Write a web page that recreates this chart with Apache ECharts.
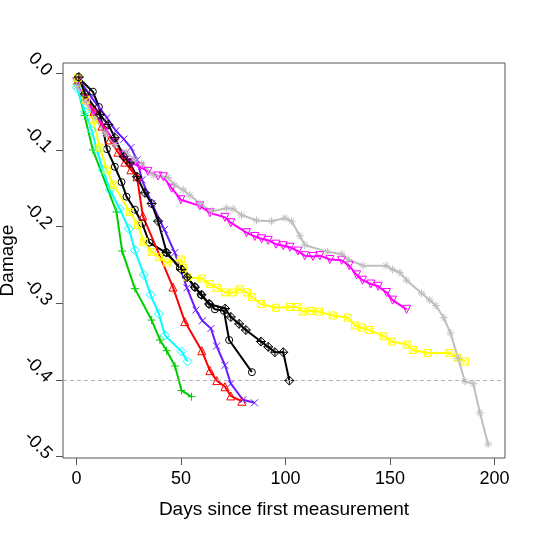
<!DOCTYPE html>
<html>
<head>
<meta charset="utf-8">
<script src="https://cdn.jsdelivr.net/npm/echarts@6/dist/echarts.min.js"></script>
<style>
  html, body { margin: 0; padding: 0; background: #fff; }
  #container { width: 537px; height: 537px; }
</style>
</head>
<body>
<div id="container"></div>
<script>
// tick labels
const xTicks = [0, 50, 100, 150, 200]
const yTicks = [0, -0.1, -0.2, -0.3, -0.4, -0.5]
const threshold = -0.4

// series 1: black, open circle
const days1 = [0.6, 7.8, 10.7, 14.5, 18.3, 21.5, 23.9, 27.9, 31.4, 34.8, 42.7, 49.4, 52.9, 56.6, 59.5, 63.5, 66.2, 70.5, 73.0, 83.9]
const damage1 = [-0.005, -0.024, -0.044, -0.099, -0.122, -0.142, -0.161, -0.178, -0.196, -0.221, -0.234, -0.254, -0.266, -0.279, -0.289, -0.301, -0.308, -0.310, -0.348, -0.390]

// series 2: red, triangle
const days2 = [0.6, 4.4, 8.3, 12.1, 15.9, 19.8, 23.1, 26.0, 28.9, 31.7, 46.1, 51.8, 59.9, 63.8, 67.1, 71.0, 73.8, 79.1]
const damage2 = [-0.009, -0.031, -0.050, -0.069, -0.087, -0.103, -0.116, -0.126, -0.135, -0.186, -0.279, -0.324, -0.362, -0.388, -0.401, -0.409, -0.421, -0.428]

// series 3: green, plus
const days3 = [0.1, 3.8, 7.8, 19.1, 21.8, 27.9, 35.9, 39.9, 43.1, 47.1, 50.2, 55.0]
const damage3 = [-0.014, -0.055, -0.100, -0.181, -0.232, -0.281, -0.322, -0.348, -0.362, -0.382, -0.414, -0.422]

// series 4: blue, cross
const days4 = [0.6, 7.3, 14.5, 18.8, 22.6, 26.0, 28.9, 31.3, 36.0, 42.0, 47.0, 52.8, 57.1, 60.2, 64.3, 67.0, 71.0, 73.8, 79.6, 85.1]
const damage4 = [-0.006, -0.032, -0.058, -0.075, -0.086, -0.097, -0.113, -0.139, -0.170, -0.204, -0.234, -0.280, -0.309, -0.323, -0.333, -0.356, -0.381, -0.405, -0.426, -0.430]

// series 5: cyan, diamond
const days5 = [0.1, 4.0, 7.2, 9.7, 12.6, 15.9, 20.7, 25.0, 27.9, 32.2, 35.4, 39.4, 42.3, 50.2, 53.1]
const damage5 = [-0.019, -0.050, -0.074, -0.100, -0.126, -0.152, -0.177, -0.203, -0.231, -0.263, -0.289, -0.314, -0.342, -0.363, -0.376]

// series 6: magenta, inverted triangle
const days6 = [0.1, 4.4, 8.8, 13.5, 18.3, 22.6, 26.5, 30.3, 34.1, 39.0, 41.5, 45.5, 49.9, 59.0, 63.8, 71.0, 73.8, 81.3, 85.3, 88.5, 91.7, 95.4, 98.9, 102.1, 105.9, 109.2, 113.1, 116.4, 121.2, 126.8, 130.4, 134.0, 136.8, 140.8, 144.3, 148.3, 151.2, 157.9]
const damage6 = [-0.011, -0.035, -0.053, -0.071, -0.090, -0.107, -0.117, -0.122, -0.128, -0.134, -0.135, -0.150, -0.165, -0.173, -0.182, -0.188, -0.195, -0.208, -0.213, -0.216, -0.218, -0.223, -0.225, -0.227, -0.232, -0.238, -0.239, -0.238, -0.243, -0.244, -0.251, -0.263, -0.270, -0.275, -0.278, -0.286, -0.296, -0.308]

// series 7: yellow, boxed cross
const days7 = [0.6, 4.4, 7.8, 11.1, 14.5, 17.8, 25.5, 29.3, 32.2, 36.0, 39.4, 43.2, 49.9, 50.9, 52.8, 60.0, 63.8, 67.1, 71.0, 74.8, 78.1, 81.5, 83.9, 88.2, 95.4, 102.1, 105.4, 108.3, 112.1, 116.0, 122.6, 129.8, 133.2, 136.5, 139.9, 147.0, 150.9, 158.0, 160.9, 168.1, 178.6, 182.0, 185.8]
const damage7 = [-0.006, -0.035, -0.061, -0.097, -0.126, -0.146, -0.181, -0.198, -0.220, -0.233, -0.240, -0.247, -0.243, -0.254, -0.266, -0.268, -0.275, -0.280, -0.286, -0.286, -0.282, -0.286, -0.292, -0.301, -0.306, -0.305, -0.305, -0.311, -0.310, -0.311, -0.316, -0.319, -0.329, -0.332, -0.335, -0.343, -0.350, -0.354, -0.361, -0.365, -0.365, -0.371, -0.376]

// series 8: gray, asterisk
const days8 = [0.1, 4.0, 8.8, 13.5, 18.3, 23.6, 27.9, 31.2, 36.7, 43.8, 47.0, 51.0, 54.2, 59.0, 64.6, 71.8, 74.9, 78.9, 86.1, 93.3, 99.7, 102.9, 106.8, 109.2, 120.0, 127.0, 130.0, 137.1, 148.0, 151.2, 154.7, 157.9, 165.1, 169.0, 171.9, 175.7, 178.9, 182.6, 185.8, 189.8, 193.0, 196.9]
const damage8 = [-0.017, -0.037, -0.058, -0.078, -0.093, -0.103, -0.113, -0.118, -0.133, -0.136, -0.146, -0.152, -0.159, -0.170, -0.180, -0.176, -0.177, -0.185, -0.192, -0.193, -0.189, -0.193, -0.212, -0.224, -0.233, -0.236, -0.243, -0.251, -0.251, -0.256, -0.260, -0.270, -0.287, -0.296, -0.303, -0.319, -0.339, -0.372, -0.402, -0.405, -0.443, -0.484]

// series 9: black, diamond with plus
const days9 = [1.1, 4.0, 11.1, 15.2, 18.3, 22.6, 25.5, 28.9, 32.7, 35.9, 39.0, 43.1, 50.2, 52.9, 56.6, 59.8, 63.4, 71.1, 73.8, 77.8, 81.0, 88.2, 91.7, 94.9, 98.9, 101.8]
const damage9 = [-0.005, -0.027, -0.054, -0.067, -0.084, -0.109, -0.117, -0.135, -0.156, -0.170, -0.193, -0.234, -0.256, -0.266, -0.279, -0.289, -0.301, -0.307, -0.318, -0.327, -0.335, -0.350, -0.357, -0.364, -0.364, -0.401]

const font = 'Liberation Sans, Arial, Helvetica, sans-serif'
const axisGray = '#555'

// R pch style markers
const pch = {
  circle: 'circle',
  triangle: 'path://M5,0L10,8.66L0,8.66Z',
  plus: 'path://M0,5L10,5M5,0L5,10',
  cross: 'path://M0,0L10,10M0,10L10,0',
  diamond: 'path://M5,0L10,5L5,10L0,5Z',
  invTriangle: 'path://M0,0L10,0L5,8.66Z',
  boxCross: 'path://M0,0L10,0L10,10L0,10ZM0,0L10,10M0,10L10,0',
  asterisk: 'path://M0,5L10,5M5,0L5,10M1.5,1.5L8.5,8.5M1.5,8.5L8.5,1.5',
  diamondPlus: 'path://M5,0L10,5L5,10L0,5ZM0,5L10,5M5,0L5,10'
}

function makeSeries(days, damage, color, symbol, size) {
  const data = []
  for (let i = 0; i < days.length; i++) {
    data.push([days[i], damage[i]])
  }
  return {
    type: 'line',
    data: data,
    symbol: symbol,
    symbolSize: size,
    showAllSymbol: true,
    lineStyle: { color: color, width: 2 },
    itemStyle: { color: 'rgba(0,0,0,0)', borderColor: color, borderWidth: 1 },
    emphasis: { disabled: true },
    silent: true,
    z: 2
  }
}

const series = [
  makeSeries(days1, damage1, '#000000', pch.circle, 7),
  makeSeries(days2, damage2, '#ff0000', pch.triangle, 8),
  makeSeries(days3, damage3, '#00cd00', pch.plus, 8),
  makeSeries(days4, damage4, '#6a1cff', pch.cross, 7),
  makeSeries(days5, damage5, '#00ffff', pch.diamond, 9),
  makeSeries(days6, damage6, '#ff00ff', pch.invTriangle, 8),
  makeSeries(days7, damage7, '#ffff00', pch.boxCross, 7),
  makeSeries(days8, damage8, '#bebebe', pch.asterisk, 8),
  makeSeries(days9, damage9, '#000000', pch.diamondPlus, 9)
]

// dashed reference line
series[0].markLine = {
  silent: true,
  symbol: 'none',
  label: { show: false },
  lineStyle: { color: '#b4b4b4', type: [4, 3], width: 1 },
  data: [{ yAxis: threshold }]
}

const chart = echarts.init(document.getElementById('container'))
chart.setOption({
  animation: false,
  backgroundColor: '#ffffff',
  textStyle: { fontFamily: font },
  grid: {
    left: 63, right: 32, top: 63, bottom: 79,
    outerBoundsMode: 'none',
    containLabel: false,
    show: true,
    borderColor: axisGray,
    borderWidth: 1,
    backgroundColor: 'transparent'
  },
  xAxis: {
    type: 'value',
    min: -6.5,
    max: 205,
    name: 'Days since first measurement',
    nameLocation: 'middle',
    nameGap: 42,
    nameMoveOverlap: false,
    nameTextStyle: { fontSize: 19, color: '#000', fontFamily: font },
    splitLine: { show: false },
    axisLine: { show: false, onZero: false },
    axisTick: { show: true, length: 7, customValues: xTicks, lineStyle: { color: axisGray } },
    axisLabel: { customValues: xTicks, fontSize: 18, color: '#000', margin: 12, fontFamily: font }
  },
  yAxis: {
    type: 'value',
    min: -0.502,
    max: 0.0134,
    name: 'Damage',
    nameLocation: 'middle',
    nameGap: 46,
    nameMoveOverlap: false,
    nameRotate: 90,
    nameTextStyle: { fontSize: 19, color: '#000', fontFamily: font },
    splitLine: { show: false },
    axisLine: { show: false, onZero: false },
    axisTick: { show: true, length: 7, customValues: yTicks, lineStyle: { color: axisGray } },
    axisLabel: {
      customValues: yTicks,
      rotate: -45,
      fontSize: 18,
      color: '#000',
      margin: 14,
      fontFamily: font,
      padding: [0, 0, 8, 0],
      formatter: function(v) { return v.toFixed(1) }
    }
  },
  series: series
})
</script>
</body>
</html>
